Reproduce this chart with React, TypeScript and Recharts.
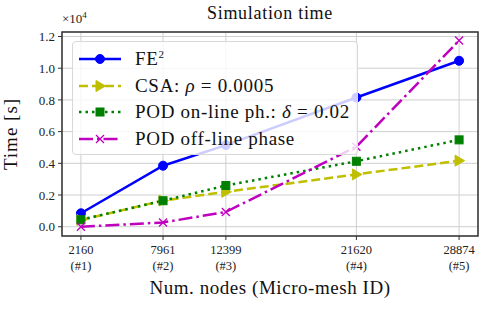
import {
  LineChart,
  Line,
  XAxis,
  YAxis,
  CartesianGrid,
  ReferenceArea,
} from 'recharts';

// valores en unidades de 1e4 s
const nodes = [2160, 7961, 12399, 21620, 28874];
const meshIds = ['#1', '#2', '#3', '#4', '#5'];
const fe2 = [0.085, 0.385, 0.515, 0.815, 1.047];
const csa = [0.042, 0.165, 0.22, 0.33, 0.417];
const podOnline = [0.044, 0.164, 0.26, 0.413, 0.548];
const podOffline = [0.0, 0.027, 0.093, 0.505, 1.175];
const yTicks = [0, 0.2, 0.4, 0.6, 0.8, 1.0, 1.2];

const data = nodes.map((n, i) => ({
  nodes: n,
  id: meshIds[i],
  fe2: fe2[i],
  csa: csa[i],
  podOnline: podOnline[i],
  podOffline: podOffline[i],
}));

const FONT = '"Liberation Serif", "DejaVu Serif", serif';
const X_MIN = 824.3;
const X_MAX = 30209.7;
const Y_MIN = -0.0585;
const Y_MAX = 1.2285;

const BLUE = '#0000ff';
const YELLOW = '#bfbf00';
const GREEN = '#008000';
const MAGENTA = '#bf00bf';

const CircleDot = (p: any) => (
  <circle cx={p.cx} cy={p.cy} r={4.5} fill={BLUE} stroke={BLUE} />
);
const TriDot = (p: any) => (
  <polygon
    points={`${p.cx + 5.5},${p.cy} ${p.cx - 4},${p.cy - 5.5} ${p.cx - 4},${p.cy + 5.5}`}
    fill={YELLOW}
    stroke={YELLOW}
  />
);
const SquareDot = (p: any) => (
  <rect x={p.cx - 4} y={p.cy - 4} width={8} height={8} fill={GREEN} stroke={GREEN} />
);
const CrossDot = (p: any) => (
  <g stroke={MAGENTA} strokeWidth={1.3}>
    <line x1={p.cx - 4} y1={p.cy - 4} x2={p.cx + 4} y2={p.cy + 4} />
    <line x1={p.cx - 4} y1={p.cy + 4} x2={p.cx + 4} y2={p.cy - 4} />
  </g>
);

const XTick = ({ x, y, payload }: any) => {
  const i = nodes.indexOf(payload.value);
  return (
    <g>
      <text x={x} y={y + 12} textAnchor="middle" fontSize={12.5} fill="#222" fontFamily={FONT}>
        {payload.value}
      </text>
      <text x={x} y={y + 28} textAnchor="middle" fontSize={12.5} fill="#222" fontFamily={FONT}>
        ({meshIds[i]})
      </text>
    </g>
  );
};

const legendItems = [
  { label: <span>FE<sup style={{ fontSize: 11 }}>2</sup></span>, color: BLUE, dash: undefined, Dot: CircleDot },
  { label: <span>CSA: <i>ρ</i> = 0.0005</span>, color: YELLOW, dash: '9 4', Dot: TriDot },
  { label: <span>POD on-line ph.: <i>δ</i> = 0.02</span>, color: GREEN, dash: '2.5 4', Dot: SquareDot },
  { label: <span>POD off-line phase</span>, color: MAGENTA, dash: '14 4 2.5 4', Dot: CrossDot },
];

const LegendBox = () => (
  <div
    style={{
      position: 'absolute',
      left: 72,
      top: 41,
      width: 286,
      height: 114,
      background: 'rgba(255,255,255,0.8)',
      border: '1px solid #d8d8d8',
      borderRadius: 4,
      fontFamily: FONT,
      fontSize: 19,
      letterSpacing: 0.7,
      color: '#111',
      boxSizing: 'border-box',
      paddingTop: 4,
    }}
  >
    {legendItems.map((it, k) => (
      <div key={k} style={{ display: 'flex', alignItems: 'center', height: 26.5 }}>
        <svg width={57} height={20} style={{ marginLeft: 5 }}>
          <line x1={1} y1={10} x2={43} y2={10} stroke={it.color} strokeWidth={2.5} strokeDasharray={it.dash} />
          <it.Dot cx={22} cy={10} />
        </svg>
        <span style={{ whiteSpace: 'nowrap' }}>{it.label}</span>
      </div>
    ))}
  </div>
);

export default function App() {
  return (
    <div style={{ position: 'absolute', left: 0, top: 0, width: 488, height: 309, background: '#fff' }}>
      <div
        style={{
          position: 'absolute',
          left: 62,
          width: 416,
          top: 3,
          textAlign: 'center',
          fontFamily: FONT,
          fontSize: 18,
          letterSpacing: 0.7,
          color: '#111',
        }}
      >
        Simulation time
      </div>
      <div style={{ position: 'absolute', left: 62, top: 10, fontFamily: FONT, fontSize: 13, color: '#222' }}>
        ×10<sup style={{ fontSize: 9 }}>4</sup>
      </div>
      <LineChart width={488} height={309} data={data} margin={{ top: 32, right: 10, bottom: 0, left: 0 }}>
        <CartesianGrid stroke="#cfcfcf" strokeWidth={1} />
        <XAxis
          dataKey="nodes"
          type="number"
          domain={[X_MIN, X_MAX]}
          ticks={nodes}
          allowDataOverflow
          height={73}
          tick={<XTick />}
          tickSize={4}
          tickMargin={2}
          tickLine={{ stroke: '#333' }}
          axisLine={false}
          label={{
            value: 'Num. nodes (Micro-mesh ID)',
            position: 'insideBottom',
            offset: 15,
            style: { fontFamily: FONT, fontSize: 19, letterSpacing: 0.55, fill: '#111' },
          }}
        />
        <YAxis
          type="number"
          domain={[Y_MIN, Y_MAX]}
          ticks={yTicks}
          allowDataOverflow
          width={62}
          tickSize={4}
          tickMargin={3}
          tickLine={{ stroke: '#333' }}
          axisLine={false}
          tickFormatter={(v: number) => v.toFixed(1)}
          tick={{ fontFamily: FONT, fontSize: 13, fill: '#222' }}
          label={{
            value: 'Time [s]',
            angle: -90,
            position: 'insideLeft',
            offset: 10,
            style: { fontFamily: FONT, fontSize: 19, letterSpacing: 1, fill: '#111', textAnchor: 'middle' },
          }}
        />
        <ReferenceArea x1={X_MIN} x2={X_MAX} y1={Y_MIN} y2={Y_MAX} fill="none" stroke="#333" strokeWidth={1.5} />
        <Line dataKey="fe2" stroke={BLUE} strokeWidth={2.5} dot={<CircleDot />} isAnimationActive={false} />
        <Line dataKey="csa" stroke={YELLOW} strokeWidth={2.5} strokeDasharray="9 4" dot={<TriDot />} isAnimationActive={false} />
        <Line dataKey="podOnline" stroke={GREEN} strokeWidth={2.5} strokeDasharray="2.5 4" dot={<SquareDot />} isAnimationActive={false} />
        <Line dataKey="podOffline" stroke={MAGENTA} strokeWidth={2.5} strokeDasharray="14 4 2.5 4" dot={<CrossDot />} isAnimationActive={false} />
      </LineChart>
      <LegendBox />
    </div>
  );
}
